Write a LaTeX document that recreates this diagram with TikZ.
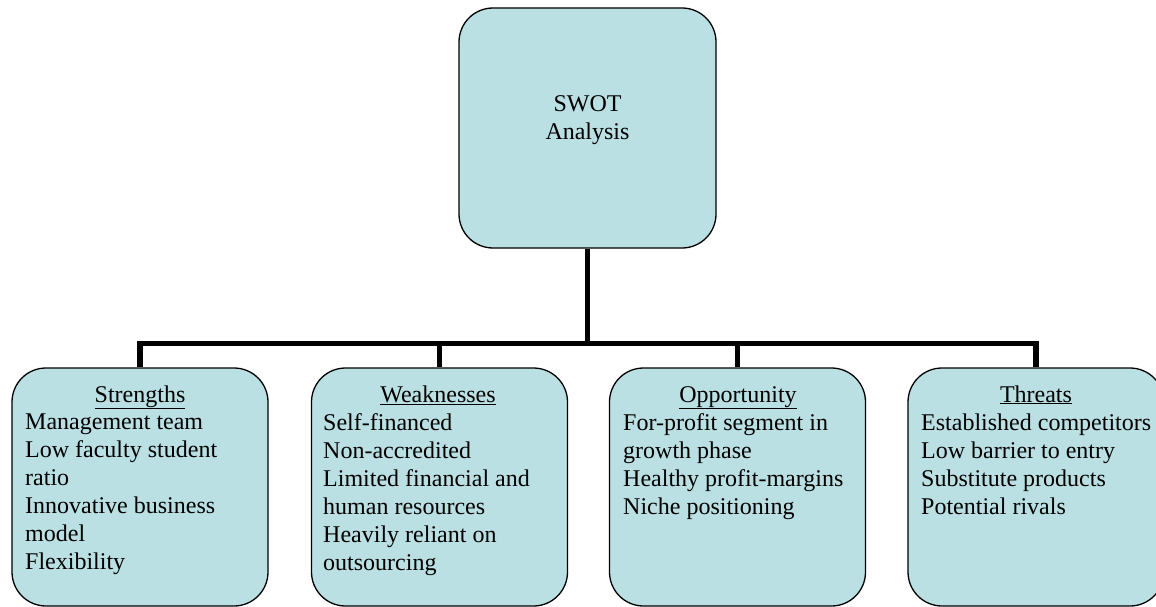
\documentclass[tikz,border=0pt]{standalone}
\usepackage{fontspec}
\setmainfont{Liberation Serif}
\definecolor{swotfill}{RGB}{186,224,227}
\begin{document}
\begin{tikzpicture}[x=1pt,y=-1pt,
  panel/.style={draw=black, line width=1.3pt, fill=swotfill,
    rounded corners=34pt, inner sep=0pt, minimum width=256pt, minimum height=238pt},
  link/.style={line width=5.5pt, draw=black},
  txt/.style={font=\fontsize{24}{28}\selectfont, inner sep=0pt, align=left},
  heading/.style={font=\fontsize{24}{28}\selectfont, inner sep=0pt, anchor=base}]
\useasboundingbox (0,0) rectangle (1156,607);
\clip (0,0) rectangle (1156,607);

% hub of the tree
\coordinate (hub) at (587.5,343.5);

% boxes
\node[panel, minimum width=257pt, minimum height=240pt] (swot) at (587.5,128) {};
\node[panel] (s) at (140,487) {};
\node[panel] (w) at (439.5,487) {};
\node[panel] (o) at (737.5,487) {};
\node[panel] (t) at (1036,487) {};

% connectors
\draw[link] (swot.south) -- (hub);
\draw[link] (hub) -| (s.north);
\draw[link] (hub) -| (w.north);
\draw[link] (hub) -| (o.north);
\draw[link] (hub) -| (t.north);

% centre label
\node[txt, align=center, anchor=north] (swotlbl) at (587.5,95.5) {SWOT\\Analysis};

% headings
\node[heading] (sh) at (140,402) {\underline{Strengths}};
\node[heading] (wh) at (438,402) {\underline{Weaknesses}};
\node[heading] (oh) at (738,402) {\underline{Opportunity}};
\node[heading] (th) at (1036,402) {\underline{Threats}};

% item lists
\node[txt, anchor=north west] (sl) at (25,413.5)
  {Management team\\Low faculty student\\ratio\\Innovative business\\model\\Flexibility};
\node[txt, anchor=north west] (wl) at (323,413.5)
  {Self-financed\\Non-accredited\\Limited financial and\\human resources\\Heavily reliant on\\outsourcing};
\node[txt, anchor=north west] (ol) at (623,413.5)
  {For-profit segment in\\growth phase\\Healthy profit-margins\\Niche positioning};
\node[txt, anchor=north west] (tl) at (921,413.5)
  {Established competitors\\Low barrier to entry\\Substitute products\\Potential rivals};
\end{tikzpicture}
\end{document}
